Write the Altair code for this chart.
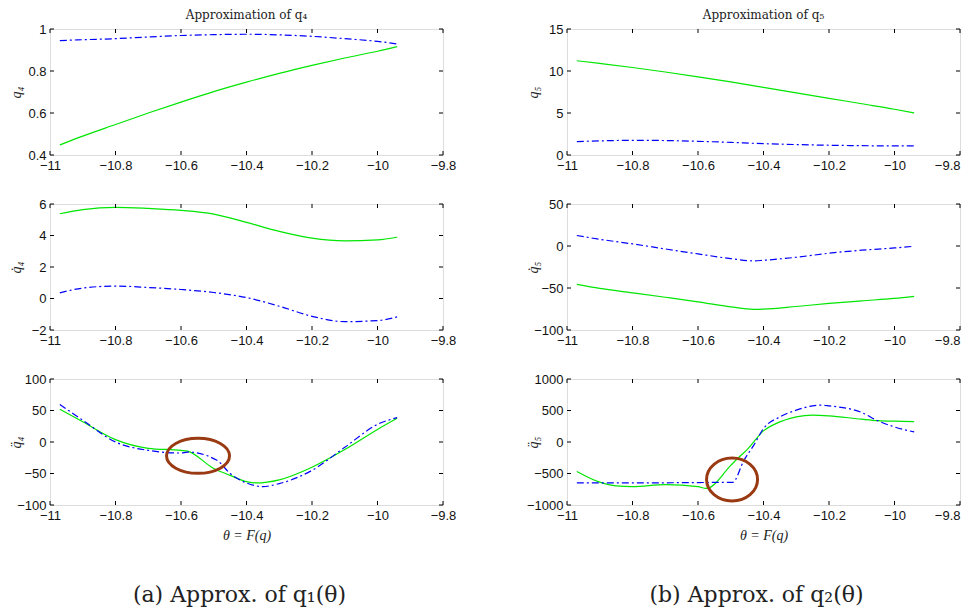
import altair as alt
import pandas as pd

# ---------------- data ----------------
x_ticks = [-11, -10.8, -10.6, -10.4, -10.2, -10, -9.8]

# q4
q4_x = [-10.97, -10.9, -10.8, -10.7, -10.6, -10.5, -10.4, -10.3, -10.2, -10.1, -10.0, -9.94]
q4_green = [0.448, 0.49, 0.545, 0.6, 0.652, 0.702, 0.747, 0.789, 0.827, 0.862, 0.894, 0.916]
q4_blue = [0.945, 0.949, 0.954, 0.962, 0.969, 0.973, 0.975, 0.972, 0.965, 0.954, 0.941, 0.929]
q4_ticks = [0.4, 0.6, 0.8, 1]

# q5
q5_x = [-10.97, -10.9, -10.8, -10.7, -10.6, -10.5, -10.4, -10.3, -10.2, -10.1, -10.0, -9.94]
q5_green = [11.22, 10.9, 10.42, 9.88, 9.3, 8.7, 8.05, 7.4, 6.75, 6.1, 5.45, 5.0]
q5_blue = [1.6, 1.68, 1.75, 1.72, 1.63, 1.5, 1.35, 1.24, 1.16, 1.11, 1.08, 1.08]
q5_ticks = [0, 5, 10, 15]

# q4 dot
dq4_x = [-10.97, -10.9, -10.8, -10.7, -10.6, -10.5, -10.4, -10.3, -10.2, -10.1, -10.0, -9.94]
dq4_green = [5.38, 5.64, 5.79, 5.72, 5.6, 5.36, 4.83, 4.26, 3.83, 3.66, 3.72, 3.89]
dq4_blue = [0.36, 0.66, 0.79, 0.7, 0.57, 0.38, 0.06, -0.49, -1.13, -1.47, -1.40, -1.17]
dq4_ticks = [-2, 0, 2, 4, 6]

# q5 dot
dq5_x = [-10.97, -10.9, -10.8, -10.7, -10.6, -10.5, -10.43, -10.4, -10.3, -10.2, -10.1, -10.0, -9.94]
dq5_green = [-45.7, -50.5, -55.7, -61, -66.5, -72.5, -75.4, -75.2, -72, -68.4, -65.3, -62.4, -60]
dq5_blue = [12.5, 8, 2.5, -3.5, -9.4, -15, -17.7, -17, -13.4, -8.6, -5, -2.3, -0.3]
dq5_ticks = [-100, -50, 0, 50]

# q4 ddot
ddq4_gx = [-10.97, -10.9, -10.8, -10.7, -10.6, -10.58, -10.5, -10.45, -10.4, -10.37, -10.3, -10.2, -10.1, -10.0, -9.94]
ddq4_green = [52, 32, 3.7, -10, -13.3, -14.6, -42, -53, -63, -65, -60, -40, -12, 20, 37.6]
ddq4_bx = [-10.97, -10.9, -10.8, -10.7, -10.6, -10.58, -10.49, -10.45, -10.4, -10.35, -10.3, -10.2, -10.1, -10.0, -9.94]
ddq4_blue = [59.6, 34.6, 0, -13.3, -17.5, -16, -29, -50, -65, -70.7, -66, -45, -8.5, 28, 38.8]
ddq4_ticks = [-100, -50, 0, 50, 100]

# q5 ddot
ddq5_gx = [-10.97, -10.9, -10.85, -10.8, -10.7, -10.6, -10.575, -10.5, -10.48, -10.45, -10.4, -10.35, -10.3, -10.25, -10.2, -10.1, -10.05, -10.0, -9.94]
ddq5_green = [-468, -638, -697, -707, -676, -707, -737, -372, -266, -122, 176, 319, 399, 426, 415, 362, 340, 330, 324]
ddq5_bx = [-10.97, -10.8, -10.6, -10.5, -10.494, -10.46, -10.43, -10.4, -10.35, -10.3, -10.25, -10.22, -10.2, -10.1, -10.05, -10.0, -9.94]
ddq5_blue = [-649, -649, -644, -640, -640, -293, -53, 213, 399, 505, 574, 585, 574, 468, 335, 239, 160]
ddq5_ticks = [-1000, -500, 0, 500, 1000]

# highlighted regions (ellipse centres)
ell_left = {"x": [-10.548], "y": [-22]}
ell_right = {"x": [-10.496], "y": [-595]}

# ---------------- styling ----------------
W, H = 393, 126
GREEN = "#00e600"
BLUE = "#0000ff"
BROWN = "#9a3a12"
TICK = 4


def xenc(xtitle, right_col):
    kw = dict(
        values=x_ticks, format="~r", grid=False, ticks=False, domain=False,
        labelFont="Liberation Sans", labelFontSize=13, labelColor="#111",
        labelPadding=4, labelFlush=False, labelOverlap=False,
    )
    if right_col:
        kw["labelAlign"] = {"condition": {"test": "datum.value > -9.85", "value": "right"},
                            "value": "center"}
    if xtitle:
        kw.update(title=xtitle, titleFont="Liberation Serif", titleFontStyle="italic",
                  titleFontSize=14, titleFontWeight="normal", titleColor="#222",
                  titleY=30, titleBaseline="middle")
    else:
        kw.update(title=None)
    return alt.X("x:Q", scale=alt.Scale(domain=[-11, -9.8], nice=False, zero=False),
                 axis=alt.Axis(**kw))


def yenc(dom, ticks, ytitle):
    return alt.Y("y:Q", scale=alt.Scale(domain=dom, nice=False, zero=False),
                 axis=alt.Axis(values=ticks, format="~r", grid=False, ticks=False, domain=False,
                               labelFont="Liberation Sans", labelFontSize=13, labelColor="#111",
                               labelPadding=4, labelFlush=False, labelOverlap=False,
                               title=ytitle, titleFont="Liberation Serif", titleFontStyle="italic",
                               titleFontSize=14, titleFontWeight="normal", titleColor="#222",
                               titleAngle=-90, titleX=-34, titleY=H / 2,
                               titleBaseline="middle", titleAlign="center"))


def ellipse_path(ratio):
    return f"M -1 0 A 1 {ratio} 0 1 1 1 0 A 1 {ratio} 0 1 1 -1 0 Z"


def panel(gx, gy, bx, by, dom, yticks, ytitle, right_col=False, title=None, xtitle=None,
          caption=None, ellipse=None, ell_w=60, ell_h=35):
    X = xenc(xtitle, right_col)
    Y = yenc(dom, yticks, ytitle)
    green = alt.Chart(pd.DataFrame({"x": gx, "y": gy})).mark_line(
        color=GREEN, strokeWidth=1.2, interpolate="monotone").encode(x=X, y=Y)
    blue = alt.Chart(pd.DataFrame({"x": bx, "y": by})).mark_line(
        color=BLUE, strokeWidth=1.2, strokeDash=[7, 3, 2, 3],
        interpolate="monotone").encode(x=X, y=Y)
    xt = pd.DataFrame({"x": x_ticks})
    yt = pd.DataFrame({"y": yticks})
    tb = alt.Chart(xt).mark_rule(color="black", strokeWidth=1).encode(
        x=X, y=alt.value(H), y2=alt.value(H - TICK))
    tt = alt.Chart(xt).mark_rule(color="black", strokeWidth=1).encode(
        x=X, y=alt.value(0), y2=alt.value(TICK))
    tl = alt.Chart(yt).mark_rule(color="black", strokeWidth=1).encode(
        y=Y, x=alt.value(0), x2=alt.value(TICK))
    tr = alt.Chart(yt).mark_rule(color="black", strokeWidth=1).encode(
        y=Y, x=alt.value(W), x2=alt.value(W - TICK))
    layers = [green, tb, tt, tl, tr, blue]
    if ellipse is not None:
        e = alt.Chart(pd.DataFrame(ellipse)).mark_point(
            shape=ellipse_path(round(ell_h / ell_w, 3)), size=ell_w ** 2,
            filled=False, stroke=BROWN, strokeWidth=3, opacity=1).encode(x=X, y=Y)
        layers.append(e)
    ch = alt.layer(*layers)
    props = dict(width=W, height=H)
    if title:
        props["title"] = alt.TitleParams(title, font="DejaVu Serif", fontSize=12,
                                         fontWeight="normal", color="#222", offset=1)
    if caption:
        props["title"] = alt.TitleParams(caption, orient="bottom", font="DejaVu Serif",
                                         fontSize=22, fontWeight="normal", color="#222",
                                         offset=43, dx=-7)
    return ch.properties(**props)


p1 = panel(q4_x, q4_green, q4_x, q4_blue, [0.4, 1], q4_ticks, "q₄",
           title="Approximation of q₄")
p2 = panel(q5_x, q5_green, q5_x, q5_blue, [0, 15], q5_ticks, "q₅", right_col=True,
           title="Approximation of q₅")
p3 = panel(dq4_x, dq4_green, dq4_x, dq4_blue, [-2, 6], dq4_ticks, "q̇₄")
p4 = panel(dq5_x, dq5_green, dq5_x, dq5_blue, [-100, 50], dq5_ticks, "q̇₅", right_col=True)
p5 = panel(ddq4_gx, ddq4_green, ddq4_bx, ddq4_blue, [-100, 100], ddq4_ticks, "q̈₄",
           xtitle="θ = F(q)", caption="(a)  Approx. of q₁(θ)", ellipse=ell_left,
           ell_w=63, ell_h=35)
p6 = panel(ddq5_gx, ddq5_green, ddq5_bx, ddq5_blue, [-1000, 1000], ddq5_ticks, "q̈₅",
           right_col=True, xtitle="θ = F(q)", caption="(b)  Approx. of q₂(θ)",
           ellipse=ell_right, ell_w=51, ell_h=43)

chart = alt.concat(p1, p2, p3, p4, p5, p6, columns=2,
                   spacing={"row": 49, "column": 124}, bounds="flush").properties(
    padding={"left": 0, "top": 0, "right": 0, "bottom": 0}
).configure_view(stroke="black", strokeWidth=1).configure(background="white")

chart.save("out.html", embed_options={"renderer": "svg", "actions": False})
